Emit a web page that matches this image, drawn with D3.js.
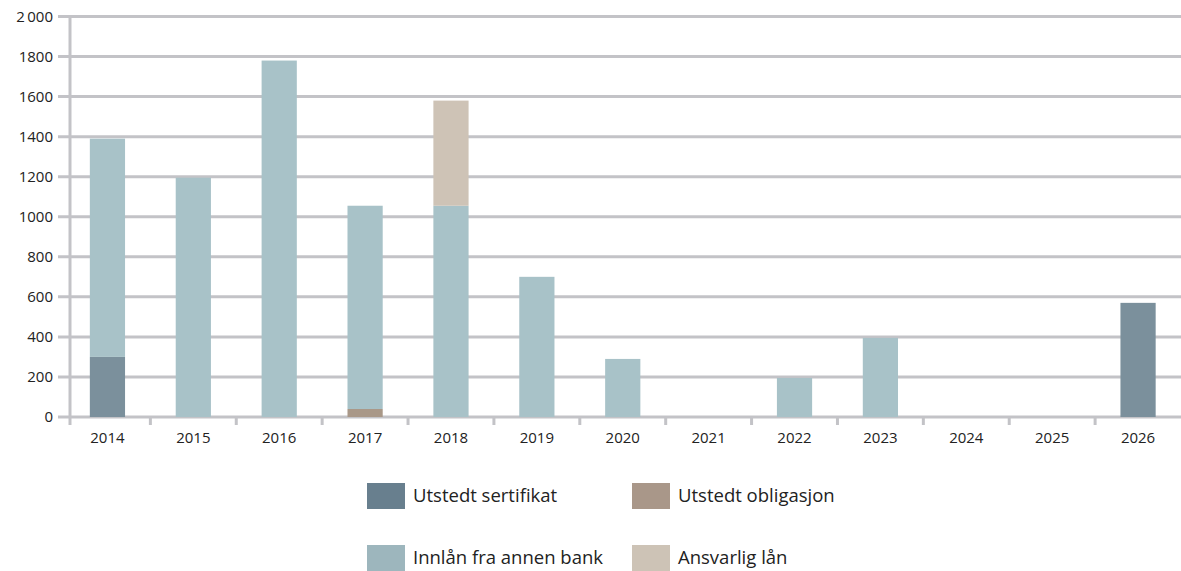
<!DOCTYPE html>
<html>
<head>
<meta charset="utf-8">
<script src="https://cdn.jsdelivr.net/npm/d3@7"></script>
<style>
  body { margin: 0; background: #fff; }
  svg { display: block; font-family: "Open Sans", "Lato", sans-serif; }
</style>
</head>
<body>
<script>
// chart data
const years = ["2014", "2015", "2016", "2017", "2018", "2019", "2020", "2021", "2022", "2023", "2024", "2025", "2026"];
const sertifikat = [300, 0, 0, 0, 0, 0, 0, 0, 0, 0, 0, 0, 570];
const obligasjon = [0, 0, 0, 40, 0, 0, 0, 0, 0, 0, 0, 0, 0];
const innlaan = [1090, 1195, 1780, 1015, 1055, 700, 290, 0, 195, 395, 0, 0, 0];
const ansvarlig = [0, 0, 0, 0, 525, 0, 0, 0, 0, 0, 0, 0, 0];
const yTicks = [0, 200, 400, 600, 800, 1000, 1200, 1400, 1600, 1800, 2000];
const yTickLabels = ["0", "200", "400", "600", "800", "1000", "1200", "1400", "1600", "1800", "2\u2009000"];

const seriesKeys = ["sertifikat", "obligasjon", "innlaan", "ansvarlig"];
const seriesNames = ["Utstedt sertifikat", "Utstedt obligasjon", "Innlån fra annen bank", "Ansvarlig lån"];
const barColors = ["#7b909c", "#a99888", "#a8c2c8", "#cec3b6"];
const legendColors = ["#687f8e", "#a99789", "#9db6bd", "#cdc3b6"];

window.onload = function () {
    const width = 1181, height = 571;
    const grid = "#c3c3c7";

    const table = years.map((y, i) => ({
        year: y,
        sertifikat: sertifikat[i],
        obligasjon: obligasjon[i],
        innlaan: innlaan[i],
        ansvarlig: ansvarlig[i]
    }));
    const stacked = d3.stack().keys(seriesKeys)(table);

    const x = d3.scaleBand()
        .domain(years)
        .range([64.5, 1181])
        .paddingInner(0.59)
        .paddingOuter(0.295);

    const y = d3.scaleLinear()
        .domain([0, 2000])
        .range([417, 16.5]);

    const svg = d3.select("body").append("svg")
        .attr("width", width)
        .attr("height", height);

    // horizontal gridlines
    svg.append("g")
        .selectAll("line")
        .data(yTicks)
        .enter().append("line")
        .attr("x1", 58)
        .attr("x2", width)
        .attr("y1", d => y(d))
        .attr("y2", d => y(d))
        .attr("stroke", grid)
        .attr("stroke-width", 3);

    // y labels
    svg.append("g")
        .selectAll("text")
        .data(yTicks)
        .enter().append("text")
        .attr("x", 53)
        .attr("y", d => y(d))
        .attr("dy", "0.35em")
        .attr("text-anchor", "end")
        .attr("font-size", 15)
        .attr("fill", "#222")
        .text((d, i) => yTickLabels[i]);

    // y axis line
    svg.append("line")
        .attr("x1", 70).attr("x2", 70)
        .attr("y1", 16).attr("y2", 425)
        .attr("stroke", grid)
        .attr("stroke-width", 3);

    // x ticks at category boundaries
    const step = x.step();
    const bounds = years.slice(1).map(d => x(d) - (step - x.bandwidth()) / 2);
    svg.append("g")
        .selectAll("line")
        .data(bounds)
        .enter().append("line")
        .attr("x1", d => d).attr("x2", d => d)
        .attr("y1", 417).attr("y2", 425)
        .attr("stroke", grid)
        .attr("stroke-width", 3);

    // bars
    svg.append("g")
        .selectAll("g")
        .data(stacked)
        .enter().append("g")
        .attr("fill", (d, i) => barColors[i])
        .selectAll("rect")
        .data(d => d.filter(p => p[1] > p[0]))
        .enter().append("rect")
        .attr("x", d => x(d.data.year))
        .attr("width", x.bandwidth())
        .attr("y", d => y(d[1]))
        .attr("height", d => y(d[0]) - y(d[1]));

    // x labels
    svg.append("g")
        .selectAll("text")
        .data(years)
        .enter().append("text")
        .attr("x", d => x(d) + x.bandwidth() / 2)
        .attr("y", 443)
        .attr("text-anchor", "middle")
        .attr("font-size", 15)
        .attr("fill", "#222")
        .text(d => d);

    // legend
    const legendPos = [[367, 483], [632, 483], [367, 545], [632, 545]];
    const legend = svg.append("g")
        .selectAll("g")
        .data(seriesNames)
        .enter().append("g")
        .attr("transform", (d, i) => "translate(" + legendPos[i][0] + "," + legendPos[i][1] + ")");

    legend.append("rect")
        .attr("width", 38)
        .attr("height", 26)
        .attr("fill", (d, i) => legendColors[i]);

    legend.append("text")
        .attr("x", 46)
        .attr("y", 13)
        .attr("dy", "0.35em")
        .attr("font-size", 18.5)
        .attr("fill", "#222")
        .text(d => d);
}
</script>
</body>
</html>
